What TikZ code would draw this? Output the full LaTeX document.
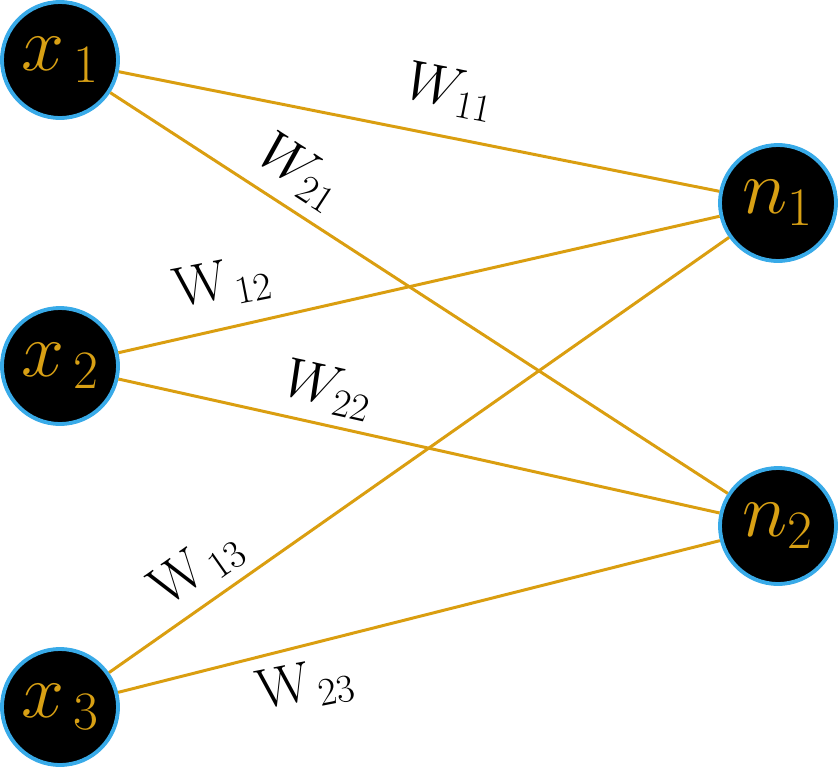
\RequirePackage{fix-cm}
\documentclass[tikz,border=0pt]{standalone}

\definecolor{gold}{RGB}{216,160,20}
\definecolor{wirecol}{RGB}{218,158,16}
\definecolor{rimblue}{RGB}{56,170,232}

\begin{document}
\begin{tikzpicture}[x=0.02cm,y=-0.02cm]
  \tikzset{neuron/.style={draw=rimblue,line width=2.2pt,circle,minimum size=2.32cm,inner sep=0pt,fill=black,text=gold,font=\fontsize{44}{52}\selectfont}}
  \tikzset{weight/.style={font=\fontsize{32}{38}\selectfont,inner sep=0pt}}
  \tikzset{wire/.style={draw=wirecol,line width=1.7pt}}

  \useasboundingbox (0,0) rectangle (839,768);

  \node [neuron] (x1) at (60,60) {$x_{\,1}$};
  \node [neuron] (x2) at (60,366) {$x_{\,2}$};
  \node [neuron] (x3) at (60,707) {$x_{\,3}$};
  \node [neuron] (n1) at (778,203) {$n_{1}$};
  \node [neuron] (n2) at (778,526) {$n_{2}$};

  \draw [wire] (x1) -- (n1);
  \draw [wire] (x1) -- (n2);
  \draw [wire] (x2) -- (n1);
  \draw [wire] (x2) -- (n2);
  \draw [wire] (x3) -- (n1);
  \draw [wire] (x3) -- (n2);

  % weights, turned along their lines
  \node [weight, rotate=-11.3] (w11) at (450,92) {$W_{11}$};
  \node [weight, rotate=-33] (w21) at (300,172) {$W_{21}$};
  \node [weight, rotate=11] (w12) at (222,284) {$\mathrm{W}_{\,12}$};
  \node [weight, rotate=-12.6] (w22) at (328,390) {$W_{22}$};
  \node [weight, rotate=35] (w13) at (197,568) {$\mathrm{W}_{\,13}$};
  \node [weight, rotate=11] (w23) at (305,686) {$\mathrm{W}_{\,23}$};
\end{tikzpicture}
\end{document}
